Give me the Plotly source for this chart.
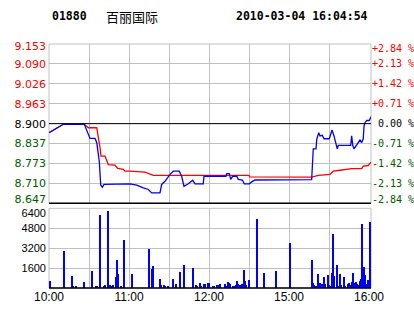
import plotly.graph_objects as go

# ---------------- data ----------------
# minutes since 10:00 on a continuous trading clock (10:00-12:30, 14:30-16:00)
price_min = [0, 10.7, 26.5, 30.75, 34.5, 35.8, 37.7, 38.8, 40, 41.25, 60.75, 65.8, 70.7, 74.5,
             77, 83.25, 84.5, 87, 90.75, 93.2, 97.7, 99.5, 101.25, 104.5, 107.8, 109.5, 115.7,
             116.25, 132.75, 133.3, 135.2, 136.3, 137.8, 140.8, 142, 145, 146.5, 150.2, 152,
             154.5, 197, 197.8, 198.2, 200.25, 200.8, 202.3, 203.25, 205, 206.25, 210.2, 211.3,
             212.25, 213.75, 215.25, 216.2, 217, 226.3, 227, 227.8, 228.75, 230.8, 233.25,
             234.5, 235.7, 236.25, 237, 238.3, 240.2, 241.5]
price = [8.871, 8.898, 8.898, 8.853, 8.853, 8.840, 8.781, 8.705, 8.698, 8.707, 8.709, 8.705,
         8.696, 8.691, 8.680, 8.680, 8.707, 8.717, 8.739, 8.749, 8.749, 8.733, 8.701, 8.709,
         8.720, 8.709, 8.709, 8.733, 8.733, 8.741, 8.741, 8.723, 8.733, 8.733, 8.723, 8.721,
         8.709, 8.709, 8.715, 8.721, 8.722, 8.776, 8.820, 8.820, 8.850, 8.871, 8.861, 8.863,
         8.852, 8.852, 8.866, 8.880, 8.861, 8.831, 8.820, 8.831, 8.831, 8.861, 8.831, 8.820,
         8.834, 8.848, 8.840, 8.852, 8.892, 8.903, 8.910, 8.910, 8.922]

avg_min = [0, 10.7, 26.5, 29.5, 35.8, 37, 38.25, 39, 42, 44.5, 49.5, 51.5, 55.7, 57, 60.75,
           72, 78.2, 150, 150.5, 197, 202, 210.75, 213.2, 218.25, 227, 234.5, 235.7, 239.5, 241.5]
avg_price = [8.871, 8.898, 8.898, 8.887, 8.887, 8.861, 8.824, 8.797, 8.797, 8.770, 8.768,
             8.758, 8.755, 8.749, 8.749, 8.746, 8.736, 8.736, 8.731, 8.730, 8.736, 8.739,
             8.749, 8.752, 8.757, 8.757, 8.765, 8.767, 8.778]

vol_min = [1, 11, 17, 18, 20, 26, 32, 35, 36, 38, 41, 42, 44, 46, 47, 48, 50, 51, 52, 54, 56,
           62, 75, 77, 78, 83, 84, 86, 87, 89, 93, 95, 98, 101, 108, 110, 111, 113, 114, 116,
           117, 119, 120, 123, 124, 126, 127, 128, 132, 133, 134, 135, 136, 138, 139, 140, 141,
           142, 143, 144, 145, 146, 147, 148, 150, 156, 161, 170, 181, 197, 198, 199, 200, 201,
           202, 203, 204, 205, 206, 207, 209, 210, 211, 212, 213, 214, 216, 217, 218, 219, 221,
           222, 224, 225, 226, 227, 228, 229, 230, 231, 232, 233, 234, 235, 236, 237, 238, 239,
           240, 241]
volume = [560, 2960, 960, 160, 160, 480, 1360, 160, 160, 5840, 160, 240, 6160, 240, 160, 240,
          830, 2240, 1120, 160, 3840, 1120, 3120, 1500, 1760, 720, 240, 240, 160, 160, 720, 320,
          1280, 1840, 1600, 240, 160, 400, 160, 320, 320, 400, 400, 160, 160, 240, 240, 320,
          320, 160, 480, 400, 320, 160, 160, 240, 560, 320, 240, 240, 320, 1440, 560, 240, 640,
          5500, 1200, 1360, 3600, 2240, 400, 240, 160, 160, 1120, 400, 320, 320, 880, 320, 1040,
          240, 160, 1200, 4320, 960, 1840, 160, 1120, 240, 880, 160, 320, 400, 240, 480, 1200,
          400, 480, 320, 240, 560, 720, 5100, 1680, 1040, 320, 640, 640, 5300]

price_ticks = [8.647, 8.710, 8.773, 8.837, 8.900, 8.963, 9.026, 9.090, 9.153]
price_labels = ["8.647", "8.710", "8.773", "8.837", "8.900", "8.963", "9.026", "9.090", "9.153"]
pct_labels = ["-2.84 %", "-2.13 %", "-1.42 %", "-0.71 %", " 0.00 %", "+0.71 %", "+1.42 %", "+2.13 %", "+2.84 %"]
vol_ticks = [1600, 3200, 4800, 6400]
time_ticks = [0, 60, 120, 180, 240]
time_labels = ["10:00", "11:00", "12:00", "15:00", "16:00"]
grid_minutes = [0, 30, 60, 90, 120, 150, 180, 210]
prev_close = 8.900

# ---------------- styling ----------------
RED = "#ff0000"
GREEN = "#005a00"
BLUE = "#0000ff"
GRID = "#c0c0c0"


def colored(labels, ticks):
    out = []
    for t, s in zip(ticks, labels):
        c = RED if t > prev_close + 1e-9 else (GREEN if t < prev_close - 1e-9 else "#000000")
        out.append(f"<span style='color:{c}'>{s}</span>")
    return out


plabels = colored(price_labels, price_ticks)
qlabels = colored(pct_labels, price_ticks)
prange = [price_ticks[0], price_ticks[-1]]

fig = go.Figure()
fig.add_trace(go.Scatter(x=avg_min, y=avg_price, mode="lines", line=dict(color=RED, width=1.3),
                         xaxis="x", yaxis="y", showlegend=False, hoverinfo="skip"))
fig.add_trace(go.Scatter(x=price_min, y=price, mode="lines", line=dict(color=BLUE, width=1.3),
                         xaxis="x", yaxis="y", showlegend=False))
# invisible anchors so the overlay label axes are drawn
for ya, yv in [("y3", prev_close), ("y4", prev_close), ("y5", prev_close), ("y6", prev_close),
               ("y7", prev_close), ("y8", 0)]:
    fig.add_trace(go.Scatter(x=[0], y=[yv], mode="markers", marker=dict(opacity=0),
                             xaxis="x2" if ya == "y8" else "x", yaxis=ya, showlegend=False,
                             hoverinfo="skip"))
fig.add_trace(go.Bar(x=vol_min, y=volume, marker=dict(color=BLUE, line=dict(width=0)),
                     width=0.75, xaxis="x2", yaxis="y2", showlegend=False))

W, H = 414, 314
L, R, T, B = 49, 43, 44, 26
ph = H - T - B
price_dom = [(288 - 203.3) / ph, 1.0]
vol_dom = [0.0, (288 - 208.3) / ph]
xr = [0, 241.5]

lfont = dict(family="DejaVu Sans", size=11)
rfont = dict(family="DejaVu Sans Mono", size=10)
vfont = dict(family="Liberation Sans", size=11, color="#000000")


def ov(side, vals, text, shift, font, dom, rng, over, anchor):
    return dict(domain=dom, range=rng, overlaying=over, side=side, anchor=anchor,
                tickvals=vals, ticktext=text, showgrid=False, zeroline=False, tickfont=font,
                ticklabelshift=shift, ticklabelstandoff=2 if side == "left" else 0,
                automargin=False)


fig.update_layout(
    width=W, height=H, margin=dict(l=L, r=R, t=T, b=B, pad=0, autoexpand=False),
    paper_bgcolor="white", plot_bgcolor="white", bargap=0,
    font=dict(family="DejaVu Sans", size=11, color="#000000"),
    xaxis=dict(domain=[0, 1], range=xr, anchor="y", showticklabels=False, showgrid=False,
               zeroline=False, tickvals=time_ticks, automargin=False,
               minor=dict(tickvals=grid_minutes, showgrid=True, gridcolor=GRID, gridwidth=1, ticklen=0)),
    xaxis2=dict(domain=[0, 1], range=xr, anchor="y2", tickvals=time_ticks,
                ticktext=time_labels, showgrid=False, zeroline=False, automargin=False,
                tickfont=dict(family="Liberation Sans", size=12, color="#000000"),
                minor=dict(tickvals=grid_minutes, showgrid=True, gridcolor=GRID, gridwidth=1, ticklen=0)),
    yaxis=dict(domain=price_dom, range=prange, tickvals=price_ticks[1:-1],
               ticktext=plabels[1:-1], showgrid=True, gridcolor=GRID, automargin=False,
               zeroline=False, tickfont=lfont, ticklabelstandoff=2),
    yaxis3=ov("right", price_ticks[1:-1], qlabels[1:-1], 0, rfont, price_dom, prange, "y", "x"),
    yaxis4=ov("left", [price_ticks[-1]], [plabels[-1]], 2, lfont, price_dom, prange, "y", "x"),
    yaxis5=ov("left", [price_ticks[0]], [plabels[0]], -4, lfont, price_dom, prange, "y", "x"),
    yaxis6=ov("right", [price_ticks[-1]], [qlabels[-1]], 4, rfont, price_dom, prange, "y", "x"),
    yaxis7=ov("right", [price_ticks[0]], [qlabels[0]], -4, rfont, price_dom, prange, "y", "x"),
    yaxis2=dict(domain=vol_dom, range=[0, 6400], tickvals=vol_ticks[:-1], anchor="x2",
                showgrid=True, gridcolor=GRID, zeroline=False, tickfont=vfont, ticklabelstandoff=2,
                automargin=False),
    yaxis8=ov("left", [vol_ticks[-1]], [str(vol_ticks[-1])], 5, vfont, vol_dom, [0, 6400], "y2", "x2"),
)

shapes = []
for ya in ["y", "y2"]:
    shapes.append(dict(type="rect", xref="x domain", yref=f"{ya} domain", x0=0, x1=1, y0=0, y1=1,
                       line=dict(color=GRID, width=1), layer="below"))
shapes.append(dict(type="line", xref="x domain", yref="y", x0=0, x1=1, y0=prev_close, y1=prev_close,
                   line=dict(color="#000000", width=1), layer="above"))
shapes.append(dict(type="line", xref="x domain", yref="y domain", x0=0, x1=1, y0=0, y1=0,
                   line=dict(color="#000000", width=1.5), layer="above"))
shapes.append(dict(type="line", xref="x domain", yref="y2 domain", x0=0, x1=1, y0=0, y1=0,
                   line=dict(color="#000000", width=1.5), layer="above"))
fig.update_layout(shapes=shapes)

hdr_y = (H - B - 16) / ph
fig.add_annotation(text="01880", xref="paper", yref="paper", x=(50 - L) / (W - L - R), y=hdr_y,
                   xanchor="left", yanchor="middle", showarrow=False,
                   font=dict(family="DejaVu Sans Mono", size=11.5, weight="bold", color="#000000"))
fig.add_annotation(text="百丽国际", xref="paper", yref="paper", x=(104 - L) / (W - L - R), y=hdr_y,
                   xanchor="left", yanchor="middle", showarrow=False,
                   font=dict(family="Noto Sans CJK SC", size=13, color="#000000"))
fig.add_annotation(text="2010-03-04 16:04:54", xref="paper", yref="paper", x=(370 - L) / (W - L - R),
                   y=hdr_y, xanchor="right", yanchor="middle", showarrow=False,
                   font=dict(family="DejaVu Sans Mono", size=11.5, weight="bold", color="#000000"))

fig.write_html("out.html")
